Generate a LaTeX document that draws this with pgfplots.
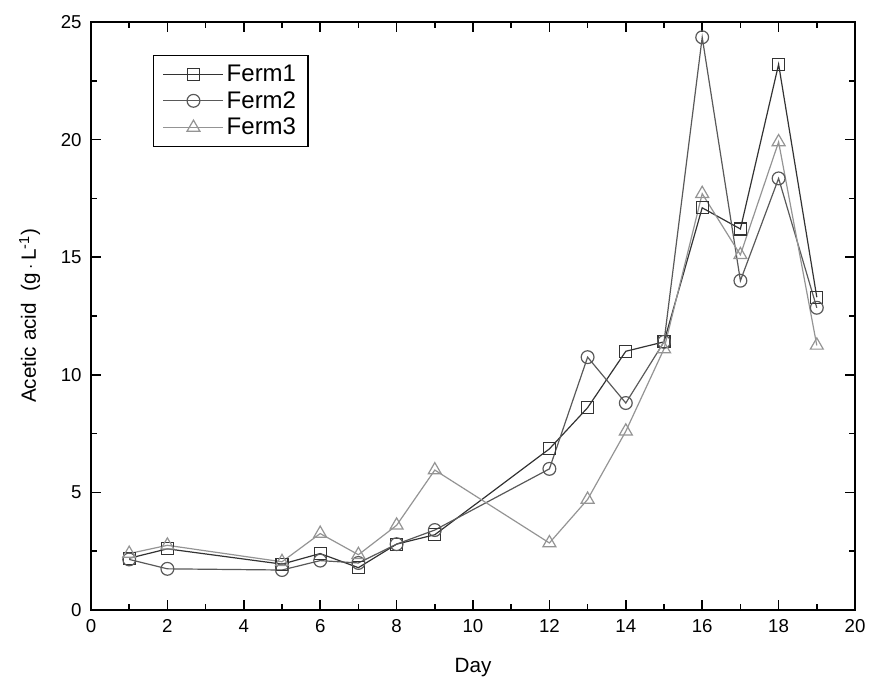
\documentclass[border=0pt]{standalone}
\usepackage{fontspec}
\setmainfont{Liberation Sans}
\usepackage{pgfplots}
\pgfplotsset{compat=1.18}
\begin{document}
\begin{tikzpicture}
\begin{axis}[
  width=573pt, height=441pt, scale only axis,
  xmin=0, xmax=20, ymin=0, ymax=25,
  xtick={0,2,...,20}, ytick={0,5,...,25},
  minor xtick={1,3,...,19}, minor ytick={2.5,7.5,...,22.5},
  tick align=inside, tick pos=both,
  major tick length=7.5pt, minor tick length=4.5pt,
  every tick/.style={black, line width=1.1pt},
  axis line style={line width=1.3pt},
  /pgf/number format/assume math mode=true,
  ticklabel style={font=\fontsize{14pt}{16pt}\selectfont},
  xticklabel style={yshift=-3.5pt},
  yticklabel style={xshift=-3.5pt},
  xlabel={Day}, ylabel={Acetic acid\ \ (g\,$\cdot$\,L\textsuperscript{-1})},
  label style={font=\fontsize{15.5pt}{17pt}\selectfont},
  xlabel style={at={([yshift=-43.5pt]axis description cs:0.5,0)}, anchor=center},
  ylabel style={at={([xshift=-46pt]axis description cs:0,0.5)}, anchor=center},
  legend style={at={(0.081,0.944)}, anchor=north west, draw=black, line width=1pt,
    font=\fontsize{18pt}{21pt}\selectfont, row sep=2pt, inner xsep=7pt, inner ysep=5pt},
  legend cell align=left,
  legend image code/.code={
    \draw[#1, mark options={solid}] (0pt,0pt) -- (45pt,0pt);
    \draw[#1, only marks] plot coordinates {(22.5pt,0pt)};
  },
]
\coordinate (bl) at (rel axis cs:0,0);
\coordinate (tr) at (rel axis cs:1,1);
\addplot[color=black!80, line width=0.9pt, mark=square, mark size=4.5pt, mark options={fill=white, line width=0.9pt}] coordinates {
(1,2.2)(2,2.6)(5,1.95)(6,2.4)(7,1.8)(8,2.8)(9,3.2)(12,6.85)(13,8.6)(14,11.0)(15,11.4)(16,17.1)(17,16.2)(18,23.2)(19,13.3)};
\addlegendentry{Ferm1}
\addplot[color=black!65, line width=0.9pt, mark=o, mark size=4.8pt, mark options={fill=white, line width=0.9pt}] coordinates {
(1,2.15)(2,1.75)(5,1.7)(6,2.1)(7,2.0)(8,2.8)(9,3.4)(12,6.0)(13,10.75)(14,8.8)(15,11.4)(16,24.35)(17,14.0)(18,18.35)(19,12.85)};
\addlegendentry{Ferm2}
\addplot[color=black!42, line width=0.9pt, mark=triangle, mark size=5.6pt, mark options={fill=white, line width=0.9pt}] coordinates {
(1,2.4)(2,2.75)(5,2.05)(6,3.25)(7,2.35)(8,3.6)(9,5.95)(12,2.85)(13,4.7)(14,7.6)(15,11.1)(16,17.7)(17,15.1)(18,19.9)(19,11.25)};
\addlegendentry{Ferm3}
\end{axis}
\pgfresetboundingbox
\path ([shift={(-68.25pt,-56.25pt)}]bl) rectangle ([shift={(14.25pt,16.5pt)}]tr);
\end{tikzpicture}
\end{document}
